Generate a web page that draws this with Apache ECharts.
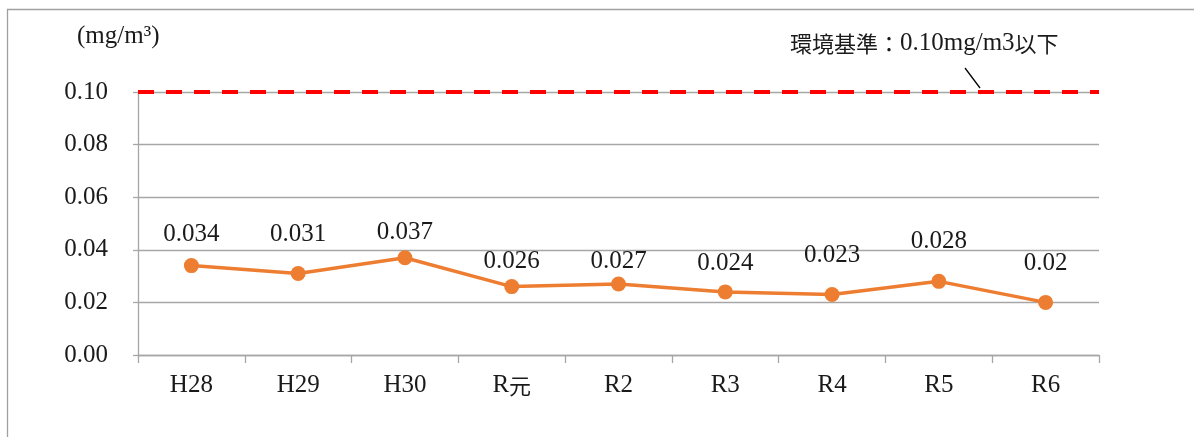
<!DOCTYPE html>
<html>
<head>
<meta charset="utf-8">
<script src="https://cdn.jsdelivr.net/npm/echarts@6/dist/echarts.min.js"></script>
<style>
  html, body { margin: 0; padding: 0; background: #fff; }
  #chart { width: 1194px; height: 437px; }
</style>
</head>
<body>
<div id="chart"></div>
<script>
// Fiscal years (Heisei / Reiwa)
const years = ['H28', 'H29', 'H30', 'R元', 'R2', 'R3', 'R4', 'R5', 'R6'];
// Annual mean concentration (mg/m3)
const concentration = [0.034, 0.031, 0.037, 0.026, 0.027, 0.024, 0.023, 0.028, 0.02];
// Environmental standard
const standardValue = 0.10;
const standardPrefix = '環境基準：';
const standardValueText = '0.10mg/m3';
const standardSuffix = '以下';
const unitLabel = '(mg/m³)';
// Value axis ticks
const yMin = 0, yMax = 0.10, yStep = 0.02;

const FONT = '"Liberation Serif", "Noto Sans CJK JP", serif';
const CJK = '"Noto Sans CJK JP", sans-serif';
const TEXT = '#1a1a1a';
const GRID = '#a6a6a6';
const FS = 25;

// Gap (px) between each point and its value label, hand-placed per point
const labelGap = [11, 19, 5, 5, 3, 8, 19, 20, 19];

const chart = echarts.init(document.getElementById('chart'));

chart.setOption({
  animation: false,
  backgroundColor: '#fff',
  textStyle: { fontFamily: FONT },
  grid: { left: 138, right: 95, top: 92, bottom: 82, containLabel: false },
  xAxis: {
    type: 'category',
    data: years,
    boundaryGap: true,
    axisLine: { show: true, lineStyle: { color: GRID, width: 1.3 } },
    axisTick: { show: true, length: 8, alignWithLabel: false, lineStyle: { color: GRID, width: 1.3 } },
    axisLabel: {
      color: TEXT, fontSize: FS, fontFamily: FONT, margin: 18,
      formatter: v => v.replace('元', '{c|元}'),
      rich: { c: { fontFamily: CJK, fontSize: 22, color: TEXT } }
    },
    splitLine: { show: false }
  },
  yAxis: {
    type: 'value',
    min: yMin,
    max: yMax,
    interval: yStep,
    axisLine: { show: true, lineStyle: { color: GRID, width: 1.3 } },
    axisTick: { show: true, length: 5, inside: false, lineStyle: { color: GRID, width: 1.3 } },
    axisLabel: {
      color: TEXT, fontSize: FS, fontFamily: FONT, margin: 30,
      formatter: v => v.toFixed(2)
    },
    splitLine: { show: true, lineStyle: { color: GRID, width: 1.3 } }
  },
  series: [{
    type: 'line',
    data: concentration.map((v, i) => ({ value: v, label: { distance: labelGap[i] } })),
    symbol: 'circle',
    symbolSize: 15,
    lineStyle: { color: '#ED7D31', width: 3.5 },
    itemStyle: { color: '#ED7D31' },
    label: {
      show: true,
      position: 'top',
      distance: 10,
      color: TEXT,
      fontSize: FS,
      fontFamily: FONT
    },
    markLine: {
      silent: true,
      symbol: ['none', 'none'],
      label: { show: false },
      lineStyle: { color: '#FF0000', width: 4, type: [16, 12] },
      data: [{ yAxis: standardValue }]
    },
    z: 3
  }],
  graphic: [
    {
      type: 'rect',
      shape: { x: 7.5, y: 9.5, width: 1300, height: 500 },
      style: { fill: 'none', stroke: '#a0a0a0', lineWidth: 1.3 },
      silent: true, z: -1
    },
    {
      type: 'text',
      left: 77, top: 24,
      style: { text: unitLabel, font: FS + 'px "Liberation Serif", serif', fill: TEXT }
    },
    {
      type: 'text',
      left: 790, top: 31,
      style: {
        text: '{c|' + standardPrefix + '}{l|' + standardValueText + '}{c|' + standardSuffix + '}',
        rich: {
          c: { fontFamily: CJK, fontSize: 22, fill: TEXT, color: TEXT },
          l: { fontFamily: '"Liberation Serif", serif', fontSize: FS, fill: TEXT, color: TEXT }
        }
      }
    },
    {
      type: 'line',
      shape: { x1: 965, y1: 68, x2: 980, y2: 88 },
      style: { stroke: '#000', lineWidth: 1.3 }
    }
  ]
});
</script>
</body>
</html>
